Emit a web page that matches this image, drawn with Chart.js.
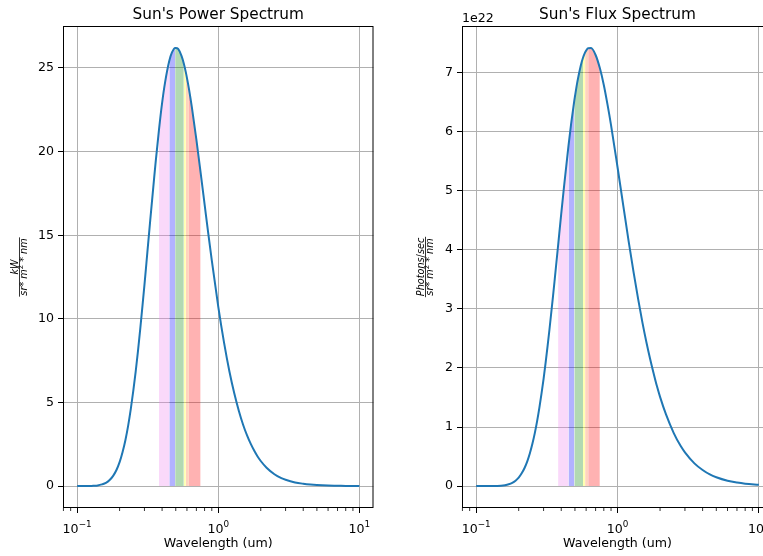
<!DOCTYPE html>
<html lang="en">
<head>
<meta charset="UTF-8" />
<title>Sun's Power and Flux Spectrum</title>
<script src="https://cdn.jsdelivr.net/npm/chart.js@4"></script>
<style>
  body { margin: 0; background: #fff; }
  #wrap { position: relative; width: 763px; height: 556px; overflow: hidden; }
  #wrap canvas { position: absolute; top: 0; }
</style>
</head>
<body>
<div id="wrap">
  <canvas id="powerChart" width="390" height="556" style="left:0;width:390px;height:556px"></canvas>
  <canvas id="fluxChart" width="400" height="556" style="left:390px;width:400px;height:556px"></canvas>
</div>

<script>
  // wavelength in um
  const wavelength = [0.1, 0.11, 0.12, 0.13, 0.14, 0.15, 0.16, 0.17, 0.18, 0.19, 0.2, 0.21, 0.22, 0.23, 0.24, 0.25, 0.26, 0.27, 0.28, 0.29,
    0.3, 0.31, 0.32, 0.33, 0.35, 0.36, 0.38, 0.4, 0.42, 0.45, 0.47, 0.495, 0.5, 0.52, 0.55, 0.57, 0.59, 0.6, 0.62,
    0.65, 0.7, 0.75, 0.8, 0.85, 0.9, 1.0, 1.1, 1.2, 1.3, 1.4, 1.5, 1.6, 1.7, 1.8, 1.9, 2.0, 2.2, 2.5, 2.8, 3, 3.5, 4, 4.5, 5, 6, 7, 8, 10];

  // kW / (sr m^2 nm)
  const power = [0.00, 0.00, 0.00, 0.02, 0.04, 0.10, 0.19, 0.36, 0.61, 0.96, 1.43, 2.04, 2.76, 3.62, 4.60, 5.69, 6.85, 8.09, 9.39, 10.71,
    12.03, 13.37, 14.68, 15.93, 18.27, 19.36, 21.29, 22.90, 24.14, 25.43, 25.93, 26.20, 26.20, 26.14, 25.71, 25.27, 24.72, 24.41, 23.75,
    22.66, 20.71, 18.74, 16.86, 15.09, 13.49, 10.73, 8.56, 6.85, 5.53, 4.49, 3.67, 3.03, 2.52, 2.11, 1.77, 1.50, 1.10, 0.71, 0.48, 0.38, 0.22, 0.14, 0.09, 0.06, 0.03, 0.02, 0.01, 0.00];

  // photons/sec / (sr m^2 nm), in units of 1e22
  const flux = [0.000, 0.000, 0.000, 0.001, 0.003, 0.007, 0.016, 0.031, 0.055, 0.092, 0.144, 0.216, 0.306, 0.419, 0.556, 0.716, 0.897, 1.100, 1.324, 1.564,
    1.817, 2.087, 2.365, 2.647, 3.220, 3.509, 4.073, 4.612, 5.105, 5.762, 6.136, 6.530, 6.596, 6.844, 7.122, 7.252, 7.343, 7.374, 7.414,
    7.416, 7.299, 7.077, 6.791, 6.458, 6.113, 5.403, 4.741, 4.139, 3.620, 3.165, 2.772, 2.441, 2.157, 1.912, 1.693, 1.511, 1.218, 0.898, 0.677, 0.571, 0.384, 0.272, 0.197, 0.149, 0.090, 0.059, 0.040, 0.021];

  // visible colour bands (um)
  const bandEdges = [0.38, 0.45, 0.495, 0.57, 0.59, 0.62, 0.75];
  const bandColors = ['rgba(238,130,238,0.3)', 'rgba(0,0,255,0.3)', 'rgba(0,128,0,0.3)',
    'rgba(255,255,0,0.3)', 'rgba(255,110,40,0.3)', 'rgba(255,0,0,0.3)'];

  const xTicks = [0.1, 1, 10];
  const xTickExponents = ['\u22121', '0', '1'];
  const xMinorTicks = [0.08, 0.09, 0.2, 0.3, 0.4, 0.5, 0.6, 0.7, 0.8, 0.9, 2, 3, 4, 5, 6, 7, 8, 9];
  const powerTicks = [0, 5, 10, 15, 20, 25];
  const fluxTicks = [0, 1, 2, 3, 4, 5, 6, 7];

  const FONT = '"DejaVu Sans", sans-serif';
  const TICK_SIZE = 12.6;
  Chart.defaults.font.family = FONT;
  Chart.defaults.color = '#000';

  function drawParts(ctx, parts, x, y, size) {
    parts.forEach(p => {
      const s = p.sup ? size * 0.7 : size;
      ctx.font = (p.it ? 'italic ' : '') + s + 'px ' + FONT;
      ctx.fillText(p.t, x, p.sup ? y - size * 0.42 : y);
      x += ctx.measureText(p.t).width;
    });
  }
  function partsWidth(ctx, parts, size) {
    let w = 0;
    parts.forEach(p => {
      const s = p.sup ? size * 0.7 : size;
      ctx.font = (p.it ? 'italic ' : '') + s + 'px ' + FONT;
      w += ctx.measureText(p.t).width;
    });
    return w;
  }

  const decor = {
    id: 'decor',
    afterDatasetsDraw(chart) {
      const { ctx, chartArea: a } = chart;
      const xs = chart.scales.x;
      ctx.save();
      ctx.strokeStyle = '#000';
      ctx.lineWidth = 1;
      ctx.strokeRect(a.left + 0.5, a.top + 0.5, a.right - a.left - 1, a.bottom - a.top - 1);
      ctx.lineWidth = 0.8;
      xMinorTicks.forEach(v => {
        const px = xs.getPixelForValue(v);
        if (px < a.left || px > a.right) return;
        ctx.beginPath();
        ctx.moveTo(px, a.bottom);
        ctx.lineTo(px, a.bottom + 3);
        ctx.stroke();
      });
      ctx.restore();
    },
    afterDraw(chart, args, o) {
      const { ctx, chartArea: a } = chart;
      const xs = chart.scales.x;
      ctx.save();
      ctx.fillStyle = '#000';
      ctx.textBaseline = 'alphabetic';

      // x tick labels as 10 with a raised exponent
      ctx.textAlign = 'left';
      xTicks.forEach((v, i) => {
        const px = xs.getPixelForValue(v);
        const parts = [{ t: '10' }, { t: xTickExponents[i], sup: true }];
        const w = partsWidth(ctx, parts, TICK_SIZE);
        drawParts(ctx, parts, px - w / 2, a.bottom + 24.5, TICK_SIZE);
      });

      ctx.font = '15.3px ' + FONT;
      ctx.textAlign = 'center';
      ctx.fillText(o.title, (a.left + a.right) / 2, 18.5);

      if (o.offsetText) {
        ctx.font = TICK_SIZE + 'px ' + FONT;
        ctx.textAlign = 'left';
        ctx.fillText(o.offsetText, a.left, 22);
      }

      // fraction y label, rotated
      const size = 9.7;
      const cy = (a.top + a.bottom) / 2;
      ctx.translate(o.fracX, cy);
      ctx.rotate(-Math.PI / 2);
      ctx.textAlign = 'left';
      const nw = partsWidth(ctx, o.num, size);
      const dw = partsWidth(ctx, o.den, size);
      const bw = Math.max(nw, dw) + 2;
      drawParts(ctx, o.num, -nw / 2, -2, size);
      drawParts(ctx, o.den, -dw / 2, 7.5, size);
      ctx.fillRect(-bw / 2, -0.4, bw, 0.8);
      ctx.restore();
    }
  };

  function makeChart(id, values, opts) {
    const datasets = [{
      data: wavelength.map((w, i) => ({ x: w, y: values[i] })),
      borderColor: '#1f77b4',
      borderWidth: 2,
      pointRadius: 0,
      fill: false,
      cubicInterpolationMode: 'monotone'
    }];
    bandColors.forEach((c, b) => {
      const lo = bandEdges[b], hi = bandEdges[b + 1];
      datasets.push({
        data: wavelength.map((w, i) => ({ x: w, y: values[i] })).filter(p => p.x >= lo && p.x <= hi),
        borderWidth: 0,
        pointRadius: 0,
        backgroundColor: c,
        fill: 'origin',
        cubicInterpolationMode: 'monotone'
      });
    });

    return new Chart(document.getElementById(id), {
      type: 'line',
      data: { datasets },
      options: {
        responsive: false,
        animation: false,
        devicePixelRatio: 1,
        layout: { padding: { left: 0, right: opts.padRight, top: 26, bottom: 0 } },
        plugins: {
          legend: { display: false },
          tooltip: { enabled: false },
          decor: opts.decor
        },
        scales: {
          x: {
            type: 'logarithmic',
            min: Math.pow(10, -1.1),
            max: Math.pow(10, 1.1),
            bounds: 'data',
            afterBuildTicks: s => { s.ticks = xTicks.map(v => ({ value: v })); },
            afterFit: s => { s.height = 48; },
            ticks: { display: false },
            grid: { color: '#b0b0b0', lineWidth: 1, tickColor: '#000', tickLength: 5, tickWidth: 1 },
            border: { display: false },
            title: {
              display: true,
              text: 'Wavelength (um)',
              color: '#000',
              font: { size: TICK_SIZE },
              padding: { top: 0, bottom: 5 }
            }
          },
          y: {
            type: 'linear',
            min: opts.yMin,
            max: opts.yMax,
            bounds: 'data',
            afterBuildTicks: s => { s.ticks = opts.yTicks.map(v => ({ value: v })); },
            afterFit: s => { s.width = opts.yWidth; },
            ticks: { padding: 4, color: '#000', font: { size: TICK_SIZE } },
            grid: { color: '#b0b0b0', lineWidth: 1, tickColor: '#000', tickLength: 5, tickWidth: 1 },
            border: { display: false }
          }
        }
      },
      plugins: [decor]
    });
  }

  makeChart('powerChart', power, {
    yMin: -1.31, yMax: 27.51, yTicks: powerTicks, yWidth: 63, padRight: 16.5,
    decor: {
      title: "Sun's Power Spectrum",
      fracX: 19.5,
      num: [{ t: 'kW', it: true }],
      den: [{ t: 'sr', it: true }, { t: '* ' }, { t: 'm', it: true }, { t: '2', sup: true }, { t: ' * ' }, { t: 'nm', it: true }]
    }
  });

  makeChart('fluxChart', flux, {
    yMin: -0.371, yMax: 7.79, yTicks: fluxTicks, yWidth: 72, padRight: 17,
    decor: {
      title: "Sun's Flux Spectrum",
      offsetText: '1e22',
      fracX: 35.5,
      num: [{ t: 'Photons', it: true }, { t: '/' }, { t: 'sec', it: true }],
      den: [{ t: 'sr', it: true }, { t: '* ' }, { t: 'm', it: true }, { t: '2', sup: true }, { t: ' * ' }, { t: 'nm', it: true }]
    }
  });
</script>
</body>
</html>
